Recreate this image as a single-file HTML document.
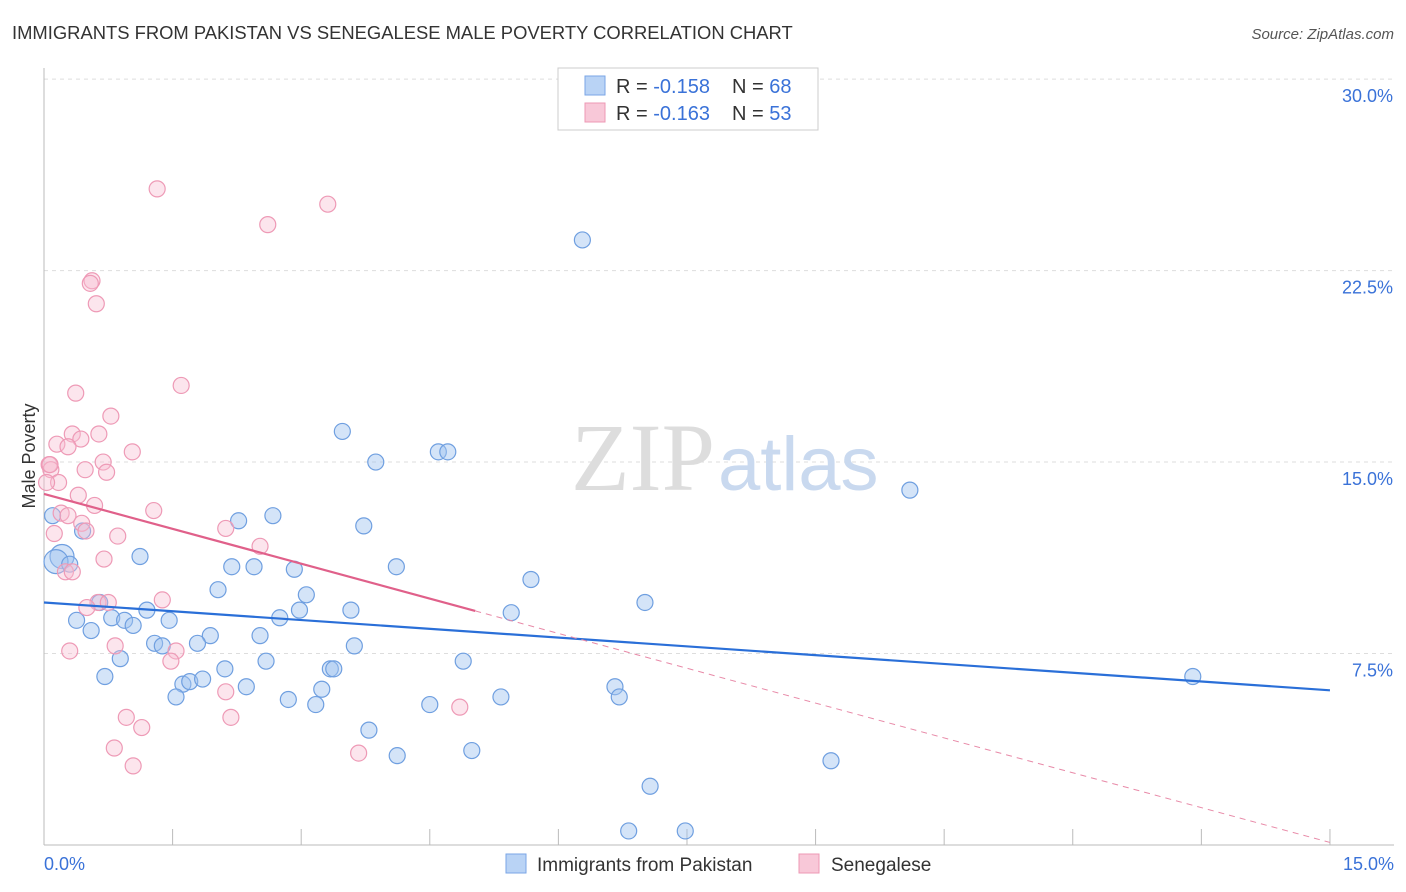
<!DOCTYPE html>
<html><head><meta charset="utf-8">
<style>
body{margin:0;background:#fff;font-family:"Liberation Sans",sans-serif;}
#wrap{position:relative;width:1406px;height:892px;overflow:hidden;}
</style></head>
<body>
<div id="wrap">
<svg id="chart" width="1406" height="892">
<text x="12" y="39" font-size="18.4" fill="#333">IMMIGRANTS FROM PAKISTAN VS SENEGALESE MALE POVERTY CORRELATION CHART</text>
<text x="1394" y="39" font-size="15" fill="#555" font-style="italic" text-anchor="end">Source: ZipAtlas.com</text>
<text x="35" y="456" font-size="18" fill="#333" text-anchor="middle" transform="rotate(-90 35 456)">Male Poverty</text>
<g id="grid"></g>
<text x="715" y="490" font-size="96" fill="#ddd" text-anchor="end" font-family="Liberation Serif,serif">ZIP</text>
<text x="718" y="490" font-size="76" fill="#c9d9ef">atlas</text>
<g id="marks"></g>
<g>
<rect x="558" y="68" width="260" height="62" fill="#fff" stroke="#ccc"/>
<rect x="585" y="76" width="20" height="19" fill="#b9d3f5" stroke="#7aa6e6"/>
<text x="616" y="93" font-size="20" fill="#333">R = <tspan fill="#3a72d8">-0.158</tspan></text>
<text x="732" y="93" font-size="20" fill="#333">N = <tspan fill="#3a72d8">68</tspan></text>
<rect x="585" y="103" width="20" height="19" fill="#f8c8d8" stroke="#ee98b4"/>
<text x="616" y="120" font-size="20" fill="#333">R = <tspan fill="#3a72d8">-0.163</tspan></text>
<text x="732" y="120" font-size="20" fill="#333">N = <tspan fill="#3a72d8">53</tspan></text>
</g>
<g>
<rect x="506" y="854" width="20" height="19" fill="#b9d3f5" stroke="#7aa6e6"/>
<text x="537" y="871" font-size="19" fill="#333">Immigrants from Pakistan</text>
<rect x="799" y="854" width="20" height="19" fill="#f8c8d8" stroke="#ee98b4"/>
<text x="831" y="871" font-size="19" fill="#333">Senegalese</text>
</g>
</svg>
</div>
<script>
const blueX=[6.28,3.48,3.87,4.6,4.71,10.1,0.1,2.27,2.67,3.73,0.45,0.21,0.14,0.3,1.12,2.19,2.45,2.92,4.11,5.68,2.03,3.06,0.65,1.2,2.98,3.58,5.45,7.01,0.38,0.79,0.94,1.04,1.46,2.75,0.55,1.94,1.79,2.52,1.29,1.38,3.62,0.89,2.59,2.11,3.34,3.38,4.89,0.71,1.62,1.7,1.85,2.36,3.24,1.54,2.85,3.17,4.5,5.33,6.66,6.71,13.4,3.79,4.12,4.99,9.18,7.07,6.82,7.48];
const blueY=[23.7,16.2,15.0,15.4,15.4,13.9,12.9,12.7,12.9,12.5,12.3,11.3,11.1,11.0,11.3,10.9,10.9,10.8,10.9,10.4,10.0,9.8,9.5,9.2,9.2,9.2,9.1,9.5,8.8,8.9,8.8,8.6,8.8,8.9,8.4,8.2,7.9,8.2,7.9,7.8,7.8,7.3,7.2,6.9,6.9,6.9,7.2,6.6,6.3,6.4,6.5,6.2,6.1,5.8,5.7,5.5,5.5,5.8,6.2,5.8,6.6,4.5,3.5,3.7,3.3,2.3,0.55,0.55];
const pinkX=[1.32,3.31,2.61,0.56,0.54,0.61,0.37,1.6,0.78,0.33,0.64,0.43,0.15,0.28,1.03,0.06,0.48,0.69,0.73,0.08,0.17,0.03,0.4,0.59,1.28,0.2,0.28,2.12,0.44,0.49,0.12,0.86,2.52,0.7,0.25,0.33,1.38,0.63,0.75,0.5,0.3,0.83,1.54,1.48,2.12,0.96,2.18,1.14,0.82,3.67,1.04,4.85,0.07];
const pinkY=[25.7,25.1,24.3,22.1,22.0,21.2,17.7,18.0,16.8,16.1,16.1,15.9,15.7,15.6,15.4,14.9,14.7,15.0,14.6,14.7,14.2,14.2,13.7,13.3,13.1,13.0,12.9,12.4,12.6,12.3,12.2,12.1,11.7,11.2,10.7,10.7,9.6,9.5,9.5,9.3,7.6,7.8,7.6,7.2,6.0,5.0,5.0,4.6,3.8,3.6,3.1,5.4,14.9];
const yTicks=[7.5,15,22.5,30];
const xS=v=>44+v*85.73, yS=v=>845-v*25.53;
const NS='http://www.w3.org/2000/svg';
function mk(t,a,p){const e=document.createElementNS(NS,t);for(const k in a)e.setAttribute(k,a[k]);p.appendChild(e);return e;}
const g=document.getElementById('grid'),m=document.getElementById('marks');
yTicks.forEach(v=>{const l=mk('line',{x1:44,x2:1394,y1:yS(v),y2:yS(v),stroke:'#ddd','stroke-dasharray':'4,4'},g);


const t=mk('text',{x:1393,y:yS(v)+23,'font-size':18,fill:'#3a72d8','text-anchor':'end'},g);t.textContent=v.toFixed(1)+'%';

});
mk('line',{x1:44,x2:44,y1:68,y2:845,stroke:'#bbb'},g);
mk('line',{x1:44,x2:1394,y1:845,y2:845,stroke:'#bbb'},g);
for(let i=1;i<=10;i++){const x=xS(i*1.5);mk('line',{x1:x,x2:x,y1:829,y2:845,stroke:'#bbb'},g);}
let t0=mk('text',{x:44,y:870,'font-size':18,fill:'#3a72d8'},g);t0.textContent='0.0%';


let t1=mk('text',{x:1394,y:870,'font-size':18,fill:'#3a72d8','text-anchor':'end'},g);t1.textContent='15.0%';


blueX.forEach((x,i)=>{const c=mk('circle',{cx:xS(x),cy:yS(blueY[i]),r:(i==11||i==12)?12:8,fill:'rgba(160,195,240,0.45)',stroke:'#6f9fe0','stroke-width':1.2},m);

});
pinkX.forEach((x,i)=>{const c=mk('circle',{cx:xS(x),cy:yS(pinkY[i]),r:8,fill:'rgba(248,190,210,0.4)',stroke:'#ee9ab6','stroke-width':1.2},m);

});
const bl=mk('line',{x1:xS(0),y1:yS(9.5),x2:xS(15),y2:yS(6.06),stroke:'#2a6fd8','stroke-width':2.2},m);


const pl=mk('line',{x1:xS(0),y1:yS(13.75),x2:xS(5.03),y2:yS(9.17),stroke:'#e0608a','stroke-width':2.2},m);


const pd=mk('line',{x1:xS(5.03),y1:yS(9.17),x2:xS(15),y2:yS(0.1),stroke:'#e88aa8','stroke-width':1,'stroke-dasharray':'6,5'},m);


</script>
</body></html>
